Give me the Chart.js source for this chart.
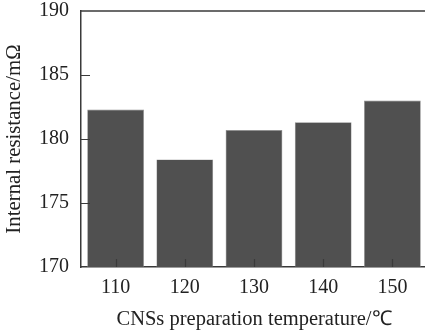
<!DOCTYPE html>
<html>
<head>
<meta charset="utf-8">
<script src="https://cdn.jsdelivr.net/npm/chart.js@4/dist/chart.umd.min.js"></script>
<style>
html,body{margin:0;padding:0;background:#fff;overflow:hidden;}
#wrap{width:427px;height:333px;position:relative;}
</style>
</head>
<body>
<div id="wrap"><canvas id="c"></canvas></div>
<script>
const categories = ['110', '120', '130', '140', '150'];
const resistance = [182.3, 178.4, 180.7, 181.3, 183.0];
const yTicks = [170, 175, 180, 185, 190];
const xTitle = 'CNSs preparation temperature/\u2103';
const yTitle = 'Internal resistance/m\u03A9';

const FONT = '"Liberation Serif", "Times New Roman", serif';
const AXIS = '#3a3a3a';

const frame = {
  id: 'frame',
  afterDraw(chart) {
    const {ctx, chartArea: a, scales: {x, y}} = chart;
    ctx.save();
    ctx.strokeStyle = AXIS;
    ctx.lineWidth = 1.5;
    ctx.beginPath();
    ctx.moveTo(a.left, a.top);
    ctx.lineTo(a.right, a.top);
    ctx.stroke();
    ctx.lineWidth = 1.2;
    ctx.beginPath();
    y.ticks.forEach(t => {
      const py = Math.round(y.getPixelForValue(t.value)) + 0.5;
      if (t.value === y.min || t.value === y.max) return;
      ctx.moveTo(a.left, py);
      ctx.lineTo(a.left + 9, py);
    });
    categories.forEach((c, i) => {
      const px = Math.round(x.getPixelForValue(i)) + 0.5;
      ctx.moveTo(px, a.bottom);
      ctx.lineTo(px, a.bottom - 8);
    });
    ctx.stroke();
    ctx.restore();
  }
};

function noPad(s) { s.paddingTop = 0; s.paddingBottom = 0; s.paddingLeft = 0; s.paddingRight = 0; }

new Chart(document.getElementById('c'), {
  type: 'bar',
  data: {
    labels: categories,
    datasets: [{
      data: resistance,
      backgroundColor: '#505050',
      borderColor: '#8a8a8a',
      borderWidth: 0.6,
      borderSkipped: 'bottom',
      barPercentage: 0.82,
      categoryPercentage: 1.0
    }]
  },
  options: {
    responsive: true,
    maintainAspectRatio: false,
    animation: false,
    devicePixelRatio: 1,
    layout: {padding: {left: 0, top: 11, right: 0, bottom: 0}},
    plugins: {legend: {display: false}, tooltip: {enabled: false}},
    scales: {
      x: {
        grid: {display: false, drawTicks: false},
        border: {display: true, color: AXIS, width: 1.5},
        ticks: {color: '#222', font: {family: FONT, size: 20}, padding: 9, maxRotation: 0},
        title: {display: true, text: xTitle, color: '#222', font: {family: FONT, size: 20.5}, padding: {top: 0, bottom: 1}},
        afterFit(s) { s.height = 66; noPad(s); }
      },
      y: {
        min: 170, max: 190,
        afterBuildTicks(s) { s.ticks = yTicks.map(v => ({value: v})); },
        grid: {display: false, drawTicks: false},
        border: {display: true, color: AXIS, width: 1.5},
        ticks: {color: '#222', font: {family: FONT, size: 20}, padding: 12},
        title: {display: true, text: yTitle, color: '#222', font: {family: FONT, size: 20.8}, padding: {top: 2, bottom: 0}},
        afterFit(s) { s.width = 81; noPad(s); }
      }
    }
  },
  plugins: [frame]
});
</script>
</body>
</html>
